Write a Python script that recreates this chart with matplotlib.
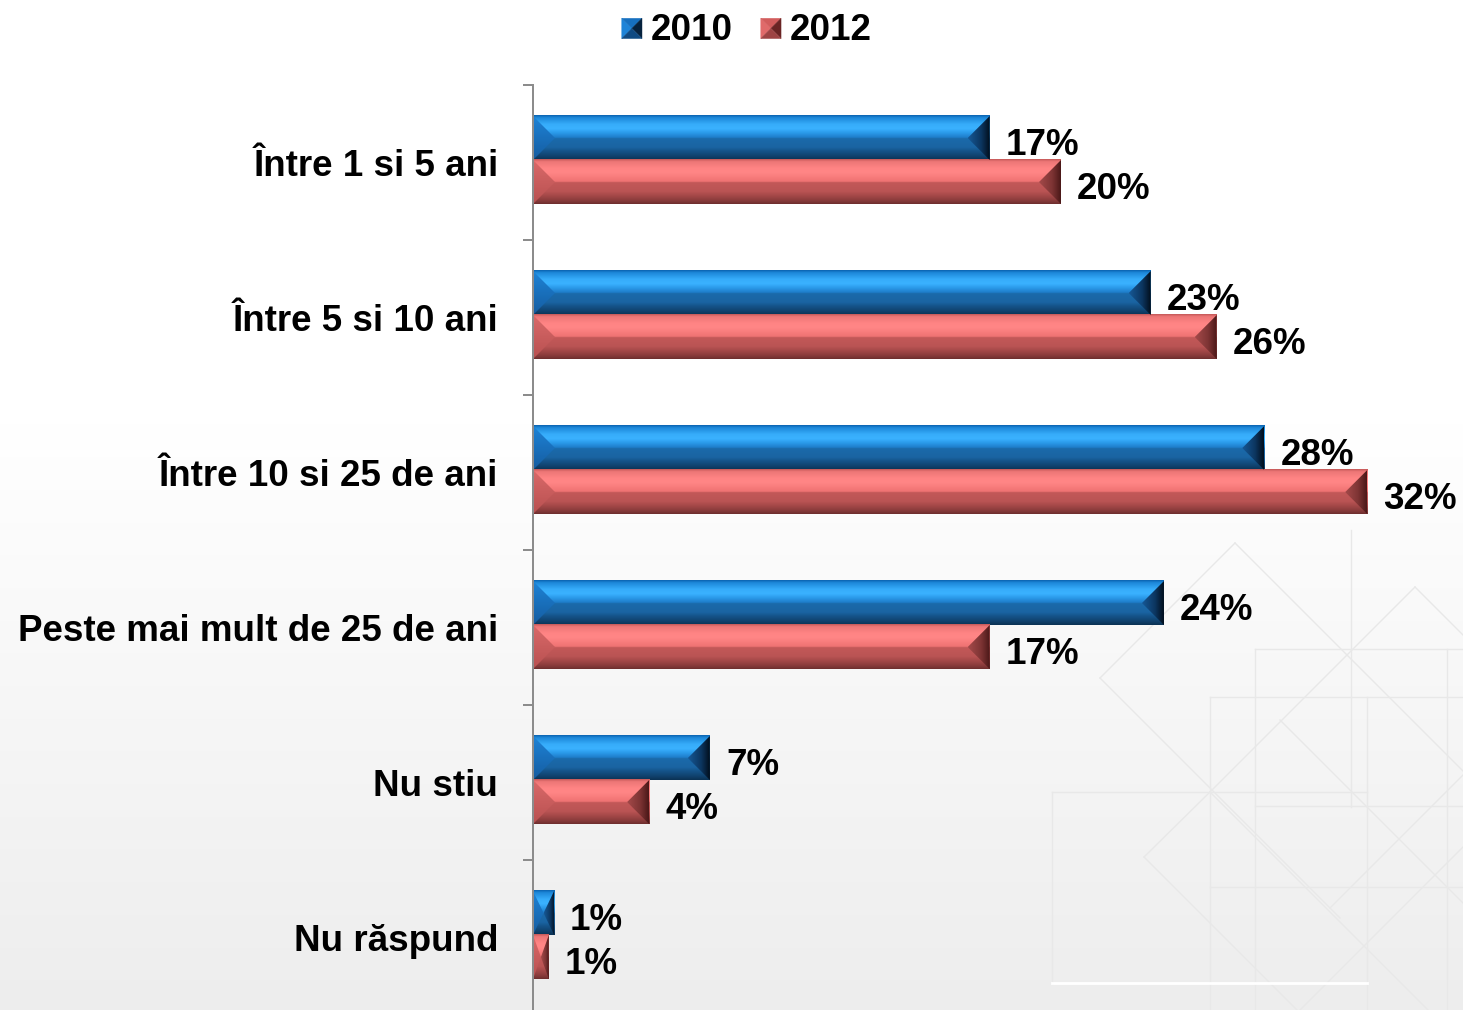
import numpy as np
import matplotlib
matplotlib.use("Agg")
import matplotlib.pyplot as plt
from matplotlib.patches import Polygon, Patch
from matplotlib.colors import to_rgb
from matplotlib.legend_handler import HandlerBase

# ---------------- data ----------------
categories = ["Între 1 si 5 ani", "Între 5 si 10 ani", "Între 10 si 25 de ani",
              "Peste mai mult de 25 de ani", "Nu stiu", "Nu răspund"]
series_names = ["2010", "2012"]
values_2010 = [17.3, 23.4, 27.7, 23.9, 6.7, 0.8]
values_2012 = [20.0, 25.9, 31.6, 17.3, 4.4, 0.6]

plt.rcParams['font.family'] = ['Liberation Sans', 'DejaVu Sans']
plt.rcParams['font.weight'] = 'bold'

W, H, DPI = 1463, 1010, 100
FS = 26.5
fig = plt.figure(figsize=(W / DPI, H / DPI), dpi=DPI)

# ---------------- background ----------------
bg = fig.add_axes([0, 0, 1, 1], zorder=-10)
t = np.linspace(0, 1, 256)
v = np.where(t < 0.42, 1.0, 1.0 - (t - 0.42) / 0.58 * 0.07)
bg_img = np.stack([v, v, v], axis=-1)[:, None, :].repeat(2, axis=1)
bg.imshow(bg_img, aspect='auto', extent=[0, 1, 0, 1], origin='upper',
          interpolation='bilinear')
deco = [
    (1100, 678, 1235, 543), (1235, 543, 1463, 771), (1100, 678, 1340, 918),
    (1210, 792, 1415, 587), (1415, 587, 1463, 635), (1144, 857, 1210, 792),
    (1144, 857, 1297, 1010), (1210, 792, 1463, 1045), (1280, 720, 1463, 903),
    (1300, 1010, 1463, 847), (1330, 908, 1463, 775),
    (1255, 649, 1463, 649), (1255, 649, 1255, 1010),
    (1210, 697, 1463, 697), (1210, 697, 1210, 1010),
    (1351, 530, 1351, 807), (1367, 697, 1367, 1010), (1447, 649, 1447, 1010),
    (1052, 792, 1367, 792), (1052, 792, 1052, 983),
    (1255, 806, 1463, 806), (1210, 887, 1463, 887),
]
for x1, y1, x2, y2 in deco:
    bg.plot([x1 / W, x2 / W], [1 - y1 / H, 1 - y2 / H], color='#E8E8E8', lw=1.0)
bg.plot([1052 / W, 1367 / W], [1 - 983 / H, 1 - 983 / H], color='#FFFFFF', lw=2.0)
bg.set_xlim(0, 1)
bg.set_ylim(0, 1)
bg.axis('off')

# ---------------- main axes ----------------
XMAX = 35.0
ax = fig.add_axes([533 / W, 1 - 1015 / H, 924 / W, 930 / H])
ax.patch.set_alpha(0)

y = np.arange(len(categories))
bh = 0.284
shift = -0.016
bars1 = ax.barh(y - bh / 2 + shift, values_2010, height=bh, color='#1E78C8', zorder=2)
bars2 = ax.barh(y + bh / 2 + shift, values_2012, height=bh, color='#E06868', zorder=2)


def grad_array(stops, n=128, vertical=True):
    pos = np.array([s[0] for s in stops])
    cols = np.array([to_rgb(s[1]) for s in stops])
    tt = np.linspace(0, 1, n)
    arr = np.stack([np.interp(tt, pos, cols[:, k]) for k in range(3)], axis=-1)
    if vertical:
        return arr[:, None, :].repeat(2, axis=1)
    return arr[None, :, :].repeat(2, axis=0)


styles = {
    'blue': dict(
        body=[(0, '#0A62B0'), (0.05, '#1C86D8'), (0.2, '#36ACFA'), (0.3, '#3AB2FF'),
              (0.4, '#2A98E8'), (0.5, '#1E7CC8'), (0.52, '#1B6AAA'), (0.72, '#1A64A2'),
              (0.8, '#15548A'), (0.92, '#10416C'), (1.0, '#0B3254')],
        left=[(0, '#1E84D8'), (1, '#155CA0')],
        right=[(0, '#165896'), (0.6, '#0C3660'), (1, '#020E1C')]),
    'red': dict(
        body=[(0, '#C45858'), (0.05, '#EC7676'), (0.2, '#FF8484'), (0.3, '#FF8686'),
              (0.4, '#F87C7C'), (0.5, '#EE7272'), (0.52, '#C25858'), (0.72, '#BA5454'),
              (0.8, '#A84A4A'), (0.92, '#8A3C3C'), (1.0, '#6E2E2E')],
        left=[(0, '#DA6A6A'), (1, '#B85050')],
        right=[(0, '#A44A4A'), (0.6, '#7E3434'), (1, '#4A1818')]),
}

px_per_unit = 924 / XMAX


def bevel(bars, st):
    for p in bars.patches:
        x0, y0, w, hh = p.get_x(), p.get_y(), p.get_width(), p.get_height()
        x1 = x0 + w
        ym = y0 + hh / 2
        bw = min(22 / px_per_unit, w / 2)
        ax.imshow(grad_array(st['body']), extent=[x0, x1, y0 + hh, y0], origin='upper',
                  aspect='auto', interpolation='bilinear', zorder=3)
        lt = Polygon([(x0, y0), (x0 + bw, ym), (x0, y0 + hh)], closed=True,
                     transform=ax.transData)
        im = ax.imshow(grad_array(st['left']), extent=[x0, x0 + bw, y0 + hh, y0],
                       origin='upper', aspect='auto', interpolation='bilinear', zorder=4)
        im.set_clip_path(lt)
        rt = Polygon([(x1, y0), (x1 - bw, ym), (x1, y0 + hh)], closed=True,
                     transform=ax.transData)
        im = ax.imshow(grad_array(st['right'], vertical=False),
                       extent=[x1 - bw, x1, y0 + hh, y0], origin='upper',
                       aspect='auto', interpolation='bilinear', zorder=4)
        im.set_clip_path(rt)


bevel(bars1, styles['blue'])
bevel(bars2, styles['red'])

for bars, vals in ((bars1, values_2010), (bars2, values_2012)):
    for p, val in zip(bars.patches, vals):
        ax.annotate(f"{val:.0f}%", xy=(p.get_width(), p.get_y() + p.get_height() / 2),
                    xytext=(16 * 0.72, -16.5 * 0.72), textcoords='offset points',
                    ha='left', va='baseline', fontsize=FS, fontweight='bold',
                    color='black', zorder=5, annotation_clip=False)

ax.set_xlim(0, XMAX)
ax.set_ylim(len(categories) - 0.5, -0.5)
ax.set_yticks(y)
ax.set_yticklabels(categories, fontsize=FS, fontweight='bold')
ax.set_yticks(np.arange(-0.5, len(categories), 1), minor=True)
ax.tick_params(axis='y', which='major', length=0, pad=25)
ax.tick_params(axis='y', which='minor', length=7.2, width=1.44, color='#8C8C8C',
               direction='out')
ax.set_xticks([])
for s in ('top', 'right', 'bottom'):
    ax.spines[s].set_visible(False)
ax.spines['left'].set_color('#8C8C8C')
ax.spines['left'].set_linewidth(1.44)
ax.spines['left'].set_zorder(6)


# ---------------- legend ----------------
class PyramidHandler(HandlerBase):
    def __init__(self, cols):
        super().__init__()
        self.cols = cols

    def create_artists(self, legend, orig_handle, xdescent, ydescent, width, height,
                       fontsize, trans):
        x0, y0 = -xdescent, -ydescent
        s = min(width, height)
        x0 = x0 + (width - s) / 2
        cx, cy = x0 + s / 2, y0 + s / 2
        tl, tr, br, bl = (x0, y0 + s), (x0 + s, y0 + s), (x0 + s, y0), (x0, y0)
        c = self.cols
        tris = [([tl, (cx, cy), bl], c[0]), ([tl, tr, (cx, cy)], c[1]),
                ([tr, br, (cx, cy)], c[2]), ([bl, (cx, cy), br], c[3])]
        arts = []
        for pts, col in tris:
            pg = Polygon(pts, closed=True, facecolor=col, edgecolor=col, lw=0.3,
                         transform=trans)
            arts.append(pg)
        return arts


h1, h2 = Patch(), Patch()
fig.legend([h1, h2], series_names, loc='center', bbox_to_anchor=(747 / W, 1 - 31 / H),
           ncol=2, frameon=False, prop={'size': FS, 'weight': 'bold'},
           handlelength=0.55, handleheight=0.55, handletextpad=0.25, columnspacing=0.75,
           handler_map={h1: PyramidHandler(['#1E84D8', '#1670C0', '#06223E', '#0F4A82']),
                        h2: PyramidHandler(['#E06A6A', '#D25C5C', '#6A2424', '#9E4444'])})

fig.savefig("out.png", dpi=DPI)
